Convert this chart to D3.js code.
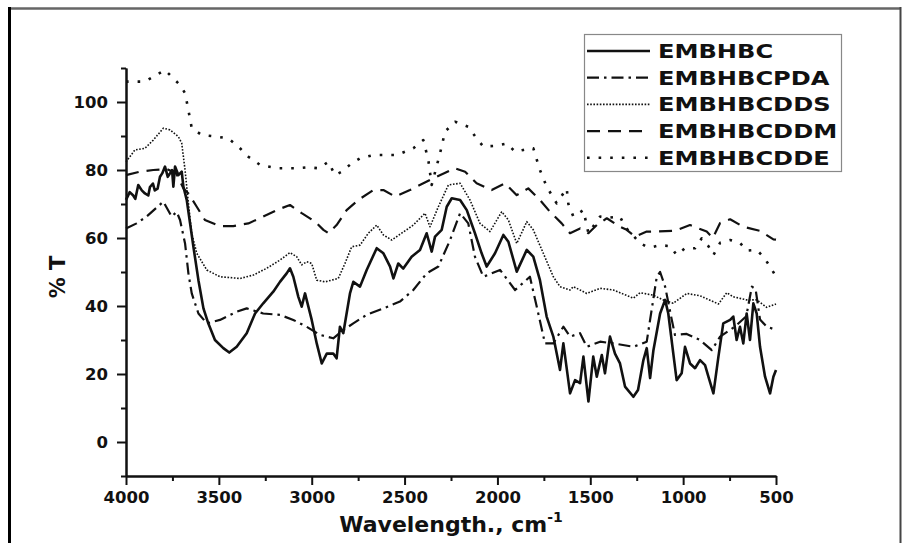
<!DOCTYPE html>
<html>
<head>
<meta charset="utf-8">
<script src="https://cdn.jsdelivr.net/npm/d3@7"></script>
<style>
  body { margin: 0; background: #fff; }
  text { font-family: "DejaVu Sans", Arial, sans-serif; font-weight: bold; fill: #111; }
</style>
</head>
<body>
<script>
// FTIR spectra, % T vs wavenumber
var svgWidth = 902;
var svgHeight = 543;

var seriesNames = ['EMBHBC', 'EMBHBCPDA', 'EMBHBCDDS', 'EMBHBCDDM', 'EMBHBCDDE'];
var xTicks = [4000, 3500, 3000, 2500, 2000, 1500, 1000, 500];
var yTicks = [0, 20, 40, 60, 80, 100];

var embhbcWn = [4000, 3980, 3961, 3950, 3934, 3915, 3898, 3880, 3871, 3855, 3845, 3830, 3817, 3805, 3790, 3775, 3763, 3752, 3745, 3736, 3718, 3700, 3691, 3673, 3655, 3637, 3610, 3583, 3557, 3521, 3476, 3444, 3404, 3350, 3305, 3261, 3207, 3171, 3135, 3117, 3099, 3072, 3054, 3036, 3018, 3000, 2973, 2946, 2919, 2884, 2866, 2848, 2830, 2794, 2776, 2740, 2704, 2650, 2614, 2578, 2560, 2534, 2507, 2462, 2417, 2381, 2354, 2336, 2300, 2273, 2246, 2201, 2165, 2121, 2085, 2058, 2013, 1968, 1941, 1896, 1842, 1807, 1771, 1735, 1699, 1663, 1645, 1609, 1582, 1555, 1537, 1510, 1484, 1465, 1438, 1421, 1394, 1367, 1340, 1313, 1268, 1243, 1214, 1196, 1178, 1160, 1124, 1097, 1080, 1053, 1035, 1008, 990, 963, 936, 909, 882, 864, 837, 810, 784, 747, 730, 712, 694, 676, 658, 640, 622, 604, 586, 559, 532, 514, 500];
var embhbcT = [71.2, 73.5, 72.5, 71.5, 75.6, 74, 73.1, 72.5, 75, 76, 74, 74.5, 78, 79, 81, 78, 79, 80, 75.1, 81, 78.5, 79.5, 75.1, 71.2, 64.3, 57.4, 47.6, 39.3, 34.9, 30, 27.6, 26.3, 28, 32, 37.8, 40.8, 44.2, 47.1, 49.6, 51.1, 48.6, 42.7, 39.8, 43.7, 39.8, 35.9, 29, 23.1, 26, 26, 24.6, 33.9, 32, 43.7, 47.1, 45.7, 50.6, 57, 55.5, 51.6, 48.1, 52.5, 51, 54.5, 56.5, 61.4, 56, 60.4, 62.4, 69.2, 71.7, 71.2, 68.2, 61.4, 55.5, 51.6, 55.5, 60.9, 58.9, 50.1, 56.5, 54.5, 47.6, 36.9, 31, 21.2, 29, 14.3, 18.2, 17.3, 25.1, 11.9, 25.1, 19.2, 25.6, 20.2, 31, 26, 23.1, 16.3, 13.3, 15.3, 24.1, 27.6, 18.8, 27, 37.8, 41.8, 37.8, 26, 18.2, 20.2, 28, 23.1, 21.7, 24.1, 22.6, 19.2, 14.3, 25.1, 34.9, 35.9, 36.9, 30, 33.9, 29, 37.8, 30, 40.8, 37.8, 28, 19.2, 14.3, 19.2, 21.2];

var pdaWn = [4000, 3943, 3889, 3799, 3754, 3727, 3709, 3682, 3664, 3646, 3610, 3565, 3494, 3404, 3350, 3261, 3171, 3099, 3027, 2955, 2884, 2830, 2776, 2704, 2614, 2525, 2453, 2381, 2318, 2255, 2201, 2157, 2121, 2076, 1986, 1905, 1825, 1780, 1744, 1699, 1645, 1609, 1555, 1519, 1447, 1376, 1268, 1196, 1178, 1142, 1124, 1097, 1061, 1044, 981, 909, 846, 801, 720, 660, 630, 610, 586, 550, 500];
var pdaT = [62.8, 64.3, 66.3, 70.7, 66.3, 67.7, 65.3, 58.4, 49.6, 43.7, 37.8, 34.9, 35.9, 38.3, 39.3, 37.8, 37.4, 35.9, 33.9, 31.5, 30.5, 32.9, 34.9, 37.4, 39.3, 41.3, 44.7, 49.6, 51.6, 59.4, 67.3, 64.3, 54.5, 48.6, 50.6, 44.7, 48.6, 37.8, 29, 29, 33.9, 31, 32, 28, 29.5, 29, 28, 29.5, 35.9, 48.6, 50, 45.7, 35.9, 31.5, 31.8, 30, 27, 31, 34, 37, 45.7, 45, 36, 33.9, 33];

var ddsWn = [4000, 3952, 3898, 3853, 3799, 3763, 3718, 3700, 3682, 3664, 3646, 3619, 3565, 3494, 3386, 3314, 3242, 3171, 3117, 3081, 3054, 3027, 3000, 2973, 2928, 2857, 2821, 2785, 2740, 2695, 2650, 2614, 2569, 2453, 2390, 2363, 2318, 2264, 2201, 2148, 2094, 2040, 1977, 1941, 1896, 1842, 1807, 1753, 1699, 1663, 1609, 1591, 1519, 1447, 1376, 1268, 1232, 1162, 1108, 1054, 980, 909, 810, 765, 730, 658, 604, 550, 500];
var ddsT = [82.4, 85.9, 86.4, 88.8, 92.3, 91.8, 89.8, 87.9, 80, 70.2, 61.4, 55.5, 50.6, 48.6, 48.1, 49.1, 51.1, 53.5, 55.7, 54.5, 52.1, 53, 52.5, 47.6, 47.1, 48.1, 52.5, 57.4, 57.9, 61.4, 63.8, 60.9, 59.4, 63.8, 67.3, 63.3, 69.2, 75.6, 76.1, 71.2, 64.3, 61.9, 67.7, 65.3, 58.4, 64.8, 62.4, 55.5, 48.6, 45.7, 44.7, 45.7, 43.7, 45.2, 44.7, 42.3, 43.9, 43.2, 41.8, 40.8, 43.7, 43, 40.6, 43.9, 42.7, 41.8, 41.8, 39.6, 40.6];

var ddmWn = [4000, 3925, 3853, 3780, 3730, 3691, 3664, 3619, 3575, 3494, 3422, 3341, 3261, 3180, 3117, 3054, 2982, 2937, 2910, 2866, 2812, 2749, 2668, 2614, 2551, 2471, 2363, 2228, 2174, 2112, 2031, 1959, 1896, 1834, 1771, 1717, 1654, 1609, 1555, 1510, 1465, 1411, 1340, 1304, 1259, 1196, 1142, 1044, 963, 873, 840, 801, 747, 676, 586, 514, 500];
var ddmT = [78.5, 79.5, 80, 80.3, 79, 74.6, 73.1, 69.2, 65.3, 63.5, 63.5, 64.3, 66.3, 68.4, 69.7, 67.3, 64.8, 62.4, 61.4, 63.8, 68.2, 71.2, 74.1, 74.1, 72.2, 74.1, 77.1, 80.5, 79.5, 76.1, 74.1, 76.1, 72.6, 74.6, 71.2, 67.7, 64.3, 61.4, 62.8, 61.4, 63.8, 65.8, 63.3, 62.4, 60.4, 61.9, 61.9, 62.1, 63.8, 61.9, 60, 64.4, 65.5, 63.3, 62.1, 59.6, 59.5];

var ddeWn = [4000, 3898, 3790, 3709, 3682, 3664, 3646, 3592, 3512, 3449, 3395, 3341, 3278, 3188, 3081, 3018, 2964, 2910, 2875, 2838, 2784, 2740, 2668, 2542, 2453, 2399, 2372, 2354, 2309, 2282, 2228, 2157, 2112, 2076, 2013, 1950, 1905, 1860, 1807, 1771, 1735, 1681, 1627, 1618, 1591, 1537, 1510, 1447, 1400, 1340, 1313, 1232, 1196, 1169, 1124, 1070, 1035, 990, 936, 900, 864, 837, 801, 747, 694, 658, 604, 568, 532, 505, 500];
var ddeT = [106, 106, 109.4, 105, 102.6, 97.6, 92.3, 90.3, 89.8, 89.3, 86.9, 83.9, 81.5, 80.5, 80.5, 80.8, 80.5, 82.4, 78.5, 79.5, 82, 83.4, 84.4, 84.4, 86.4, 88.8, 82.9, 75.6, 84.9, 91.3, 94.2, 92.7, 89.3, 86.9, 87.1, 87.8, 85.4, 85.9, 86.4, 80, 75.1, 70.2, 74.6, 70, 66.3, 68.2, 61.4, 66.3, 66, 66.3, 63.3, 58.5, 57.4, 57.3, 57.9, 57.6, 55, 57, 57, 59.9, 57.6, 55, 58.6, 59.4, 58.6, 56.3, 56.5, 54.5, 51.6, 49.1, 48.5];

var seriesWn = [embhbcWn, pdaWn, ddsWn, ddmWn, ddeWn];
var seriesT = [embhbcT, pdaT, ddsT, ddmT, ddeT];

// line styles, same order as seriesNames
var styles = [
  {w: 2.6, dash: null},
  {w: 2.2, dash: '12,5,2.5,5'},
  {w: 1.6, dash: '1.6,1.6'},
  {w: 2.2, dash: '13,8'},
  {w: 2.6, dash: '2.6,9'}
];

var svg = d3.select('body').append('svg')
  .attr('width', svgWidth)
  .attr('height', svgHeight);

// outer frame
svg.append('line').attr('x1', 8).attr('x2', 901).attr('y1', 8.5).attr('y2', 8.5)
  .attr('stroke', '#666').attr('stroke-width', 2.5);
svg.append('line').attr('x1', 9.5).attr('x2', 9.5).attr('y1', 7).attr('y2', 543)
  .attr('stroke', '#000').attr('stroke-width', 3);
svg.append('line').attr('x1', 900.5).attr('x2', 900.5).attr('y1', 7).attr('y2', 543)
  .attr('stroke', '#444').attr('stroke-width', 2);

var x = d3.scaleLinear().domain([4000, 500]).range([126, 776]);
var y = d3.scaleLinear().domain([-10, 110]).range([476, 68]);

var xMinor = [3750, 3250, 2750, 2250, 1750, 1250, 750];
var yMinor = [-10, 10, 30, 50, 70, 90, 110];

var styleAxis = function(g) {
  g.select('.domain').attr('stroke', '#111').attr('stroke-width', 2);
  g.selectAll('.tick line').attr('stroke', '#111').attr('stroke-width', 2);
  g.selectAll('.tick text')
    .style('font-family', '"DejaVu Sans", Arial, sans-serif')
    .style('font-weight', 'bold')
    .style('font-size', '16.5px')
    .attr('fill', '#111');
};

svg.append('g')
  .attr('transform', 'translate(0,476)')
  .call(d3.axisBottom(x).tickValues(xMinor).tickSize(5).tickSizeOuter(0).tickFormat(''))
  .call(styleAxis);
svg.append('g')
  .attr('transform', 'translate(0,476)')
  .call(d3.axisBottom(x).tickValues(xTicks).tickSize(9).tickPadding(6).tickSizeOuter(0)
    .tickFormat(d3.format('d')))
  .call(styleAxis);

svg.append('g')
  .attr('transform', 'translate(126,0)')
  .call(d3.axisLeft(y).tickValues(yMinor).tickSize(5).tickSizeOuter(0).tickFormat(''))
  .call(styleAxis);
svg.append('g')
  .attr('transform', 'translate(126,0)')
  .call(d3.axisLeft(y).tickValues(yTicks).tickSize(9).tickPadding(9).tickSizeOuter(0)
    .tickFormat(d3.format('d')))
  .call(styleAxis);

// axis titles
var xTitle = svg.append('text')
  .attr('x', 451).attr('y', 532)
  .attr('text-anchor', 'middle')
  .style('font-size', '22px');
xTitle.append('tspan').text('Wavelength., cm');
xTitle.append('tspan').attr('dy', -10).style('font-size', '14px').text('-1');

svg.append('text')
  .attr('transform', 'translate(65,277) rotate(-90)')
  .attr('text-anchor', 'middle')
  .style('font-size', '21px')
  .text('% T');

// spectra
var line = d3.line()
  .x(function(d) { return x(d[0]); })
  .y(function(d) { return y(d[1]); });

for (let i = seriesNames.length - 1; i >= 0; i--) {
  let pts = seriesWn[i].map(function(w, j) { return [w, seriesT[i][j]]; });
  svg.append('path')
    .datum(pts)
    .attr('d', line)
    .attr('fill', 'none')
    .attr('stroke', '#111')
    .attr('stroke-width', styles[i].w)
    .attr('stroke-linejoin', 'round')
    .attr('stroke-dasharray', styles[i].dash);
}

// legend
var legend = svg.append('g');
legend.append('rect')
  .attr('x', 584.5).attr('y', 34.5)
  .attr('width', 257).attr('height', 137)
  .attr('fill', '#fff')
  .attr('stroke', '#888').attr('stroke-width', 1.2);

var rows = legend.selectAll('.row')
  .data(seriesNames)
  .enter()
  .append('g')
  .attr('class', 'row')
  .attr('transform', function(d, i) { return 'translate(0,' + (51 + i * 26.7) + ')'; });

rows.append('line')
  .attr('x1', 587).attr('x2', 650)
  .attr('y1', 0).attr('y2', 0)
  .attr('stroke', '#111')
  .attr('stroke-width', function(d, i) { return styles[i].w; })
  .attr('stroke-dasharray', function(d, i) { return styles[i].dash; });

rows.append('text')
  .attr('transform', 'translate(658,7) scale(1.27,1)')
  .style('font-size', '19px')
  .text(function(d) { return d; });
</script>
</body>
</html>
